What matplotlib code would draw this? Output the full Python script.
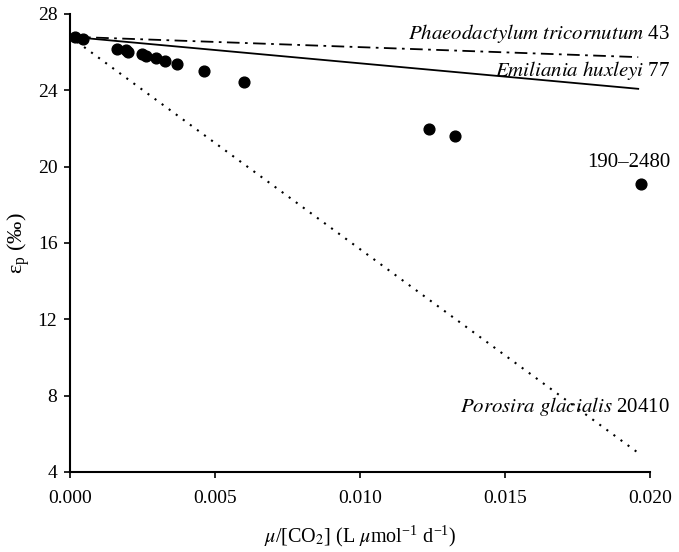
import matplotlib
matplotlib.use("Agg")
import matplotlib.pyplot as plt

plt.rcParams["font.family"] = ["Liberation Serif", "DejaVu Serif"]
plt.rcParams["mathtext.fontset"] = "stix"

# mesures (mu/[CO2], epsilon_p)
x_pts = [0.00017, 0.00044, 0.00164, 0.00192, 0.00201, 0.00247, 0.00261,
         0.00296, 0.00328, 0.00369, 0.00463, 0.00602, 0.01239, 0.01327, 0.01968]
y_pts = [26.78, 26.67, 26.18, 26.08, 26.02, 25.89, 25.81,
         25.66, 25.55, 25.38, 25.00, 24.45, 21.96, 21.62, 19.09]

# droites par espece : x debut/fin, eps debut/fin
line_x = [0.0, 0.0196]
phaeo_y = [26.8, 25.73]
emil_y = [26.8, 24.07]
poro_y = [26.8, 5.0]

fig = plt.figure(figsize=(6.79, 5.52), dpi=100)
ax = fig.add_axes([0.103, 0.145, 0.854, 0.830])

ax.plot(line_x, phaeo_y, color="k", lw=1.3, dashes=(7, 3, 1.5, 3))
ax.plot(line_x, emil_y, color="k", lw=1.3, ls="-")
ax.plot(line_x, poro_y, color="k", lw=1.5, dashes=(1, 3.2))
ax.scatter(x_pts, y_pts, s=60, color="k", zorder=3, clip_on=False)

ax.set_xlim(0, 0.020)
ax.set_ylim(4, 28)
ax.set_xticks([0, 0.005, 0.010, 0.015, 0.020])
ax.set_xticklabels(["0.000", "0.005", "0.010", "0.015", "0.020"])
ax.set_yticks([4, 8, 12, 16, 20, 24, 28])
ax.tick_params(labelsize=14, length=4, width=1.2, direction="out")
ax.tick_params(axis="x", pad=9)
ax.tick_params(axis="y", pad=5)
for s in ["top", "right"]:
    ax.spines[s].set_visible(False)
for s in ["left", "bottom"]:
    ax.spines[s].set_linewidth(1.5)

ax.set_xlabel(r"$\mu$/[CO$_2$] (L $\mu$mol$^{\mathregular{-1}}$ d$^{\mathregular{-1}}$)",
              fontsize=14.5, labelpad=12)
ax.set_ylabel(r"$\mathregular{\varepsilon_p}$ (‰)", fontsize=16, labelpad=4)

kw = dict(transform=ax.transData, ha="right", va="center", fontsize=15, clip_on=False)
ax.text(0.0207, 26.95, r"$\it{Phaeodactylum\ tricornutum}$ 43", **kw)
ax.text(0.0207, 25.05, r"$\it{Emiliania\ huxleyi}$ 77", **kw)
ax.text(0.0207, 20.2, "190–2480", **kw)
ax.text(0.0207, 7.45, r"$\it{Porosira\ glacialis}$ 20410", **kw)

fig.savefig("out.png", dpi=100)
